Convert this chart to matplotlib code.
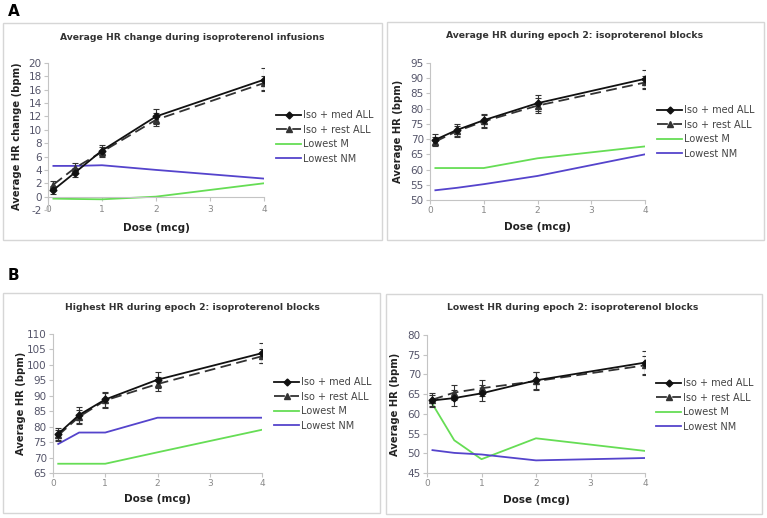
import matplotlib
matplotlib.use("Agg")
import matplotlib.pyplot as plt
from matplotlib.patches import Rectangle
from matplotlib.lines import Line2D

plt.rcParams["axes.unicode_minus"] = False

# ---------------- data ----------------
dose = [0.1, 0.5, 1, 2, 4]
x_ticks = [0, 1, 2, 3, 4]
labels = ["Iso + med ALL", "Iso + rest ALL", "Lowest M", "Lowest NM"]

titles = [
    "Average HR change during isoproterenol infusions",
    "Average HR during epoch 2: isoproterenol blocks",
    "Highest HR during epoch 2: isoproterenol blocks",
    "Lowest HR during epoch 2: isoproterenol blocks",
]
ylabels = ["Average HR change (bpm)", "Average HR (bpm)", "Average HR (bpm)", "Average HR (bpm)"]

# Panel A (top-left): average HR change
change_med = [1.0, 3.6, 6.9, 12.0, 17.5]
change_med_err = [0.6, 0.7, 0.8, 1.1, 1.7]
change_rest = [1.8, 4.3, 6.7, 11.5, 17.0]
change_rest_err = [0.6, 0.7, 0.7, 1.0, 1.0]
change_lowM = [-0.3, -0.35, -0.4, 0.0, 2.0]
change_lowNM = [4.6, 4.6, 4.7, 4.0, 2.7]

# top-right: average HR
avg_med = [69.8, 73.0, 76.2, 81.8, 89.8]
avg_med_err = [1.8, 2.0, 2.2, 2.6, 3.0]
avg_rest = [69.2, 72.6, 75.8, 81.0, 88.6]
avg_rest_err = [1.5, 1.8, 2.0, 2.4, 2.2]
avg_lowM = [60.5, 60.5, 60.5, 63.7, 67.6]
avg_lowNM = [53.2, 54.0, 55.2, 57.9, 65.0]

# bottom-left: highest HR
high_med = [77.7, 83.8, 88.8, 95.2, 103.8]
high_med_err = [2.0, 2.5, 2.5, 2.6, 3.2]
high_rest = [77.2, 83.2, 88.5, 93.8, 102.8]
high_rest_err = [1.8, 2.2, 2.4, 2.2, 2.3]
high_lowM = [68.0, 68.0, 68.0, 71.7, 79.0]
high_lowNM = [74.4, 78.1, 78.1, 82.9, 82.9]

# bottom-right: lowest HR
low_med = [63.4, 64.0, 65.2, 68.5, 73.0]
low_med_err = [1.5, 2.0, 2.0, 2.2, 3.0]
low_rest = [63.6, 65.4, 66.5, 68.3, 72.3]
low_rest_err = [1.8, 2.0, 2.0, 2.2, 2.5]
low_lowM = [62.5, 53.3, 48.5, 53.8, 50.6]
low_lowNM = [50.8, 50.1, 49.7, 48.2, 48.8]

yticks_list = [
    list(range(-2, 21, 2)),
    list(range(50, 96, 5)),
    list(range(65, 111, 5)),
    list(range(45, 81, 5)),
]

panels = [
    (change_med, change_med_err, change_rest, change_rest_err, change_lowM, change_lowNM),
    (avg_med, avg_med_err, avg_rest, avg_rest_err, avg_lowM, avg_lowNM),
    (high_med, high_med_err, high_rest, high_rest_err, high_lowM, high_lowNM),
    (low_med, low_med_err, low_rest, low_rest_err, low_lowM, low_lowNM),
]

# ---------------- layout (pixels) ----------------
W, H = 767, 518
fig = plt.figure(figsize=(W / 100, H / 100), dpi=100)
fig.patch.set_facecolor("white")

def fx(px):
    return px / W

def fy(py):
    return 1 - py / H

ax_boxes = [
    (48, 63, 264, 210),
    (430, 63, 645, 200),
    (53, 334, 262, 473),
    (427, 335, 645, 473),
]
frames = [
    (3, 23, 382, 240),
    (387, 22, 764, 240),
    (3, 293, 380, 513),
    (386, 294, 762, 514),
]
title_y = [37, 36, 307, 308]
title_x = [192, 575, 192, 573]
xlabel_y = [228, 227, 499, 500]
ylabel_x = [17, 398, 21, 395]
legend_pos = [(276, 137), (657, 132), (274, 404), (656, 405)]
xlabel_axis_loc = [0.075, 0.0, 0.0, 0.0]

GREEN = "#66dd55"
BLUE = "#5544cc"
TICKC = "#55556a"
SPINEC = "#c4c4c4"

for i in range(4):
    l, t, r, b = frames[i]
    fig.add_artist(Rectangle((fx(l), fy(b)), fx(r - l), (b - t) / H,
                             transform=fig.transFigure, fill=False,
                             edgecolor="#d6d6d6", linewidth=1.0))

    l, t, r, b = ax_boxes[i]
    ax = fig.add_axes([fx(l), fy(b), fx(r - l), (b - t) / H])
    med, med_err, rest, rest_err, lowM, lowNM = panels[i]

    ax.errorbar(dose, med, yerr=med_err, color="#111111", linewidth=1.3,
                marker="D", markersize=3.5, capsize=2.5, elinewidth=0.8,
                capthick=0.8, ecolor="#333333", zorder=4)
    ax.errorbar(dose, rest, yerr=rest_err, color="#333333", linewidth=1.3,
                linestyle=(0, (6, 3)), marker="^", markersize=4, capsize=2.5,
                elinewidth=0.8, capthick=0.8, ecolor="#333333", zorder=3)
    ax.plot(dose, lowM, color=GREEN, linewidth=1.3, zorder=2)
    ax.plot(dose, lowNM, color=BLUE, linewidth=1.3, zorder=2)

    yt = yticks_list[i]
    ax.set_ylim(yt[0], yt[-1])
    ax.set_xlim(0, 4)
    ax.set_yticks(yt)
    ax.set_xticks(x_ticks)
    ax.tick_params(axis="y", labelsize=7.5, colors=SPINEC, labelcolor=TICKC,
                   length=3, width=0.8, pad=1.5)
    ax.tick_params(axis="x", colors=SPINEC, length=3, width=0.8, labelbottom=False)
    for s in ("top", "right"):
        ax.spines[s].set_visible(False)
    for s in ("left", "bottom"):
        ax.spines[s].set_color(SPINEC)
        ax.spines[s].set_linewidth(0.8)
    if yt[0] < 0:
        ax.spines["bottom"].set_position(("data", 0))
    ax.patch.set_alpha(0)

    sec = ax.secondary_xaxis(xlabel_axis_loc[i])
    sec.set_xticks(x_ticks)
    sec.tick_params(axis="x", labelsize=6.5, length=0, pad=4, labelcolor="#888888")
    sec.spines["bottom"].set_visible(False)

    fig.text(fx(title_x[i]), fy(title_y[i]), titles[i], ha="center", va="center",
             fontsize=6.7, fontweight="bold", color="#333333")
    fig.text(fx((l + r) / 2), fy(xlabel_y[i]), "Dose (mcg)", ha="center", va="center",
             fontsize=7.5, fontweight="bold", color="#222222")
    fig.text(fx(ylabel_x[i]), fy((t + b) / 2), ylabels[i], ha="center", va="center",
             rotation=90, fontsize=7.2, fontweight="bold", color="#222222")

    handles = [
        Line2D([], [], color="#111111", linewidth=1.3, marker="D", markersize=3.5),
        Line2D([], [], color="#333333", linewidth=1.3, linestyle=(0, (6, 3)),
               marker="^", markersize=4),
        Line2D([], [], color=GREEN, linewidth=1.3),
        Line2D([], [], color=BLUE, linewidth=1.3),
    ]
    lx, ly = legend_pos[i]
    leg = ax.legend(handles, labels, loc="center left",
                    bbox_to_anchor=(fx(lx), fy(ly)), bbox_transform=fig.transFigure,
                    frameon=False, fontsize=7, handlelength=2.6, handletextpad=0.2,
                    labelspacing=0.45, borderpad=0, borderaxespad=0)
    for txt in leg.get_texts():
        txt.set_color("#444444")

fig.text(fx(8), fy(11), "A", fontsize=11, fontweight="bold", ha="left", va="center")
fig.text(fx(8), fy(275), "B", fontsize=11, fontweight="bold", ha="left", va="center")

fig.savefig("out.png", dpi=100, facecolor="white")
